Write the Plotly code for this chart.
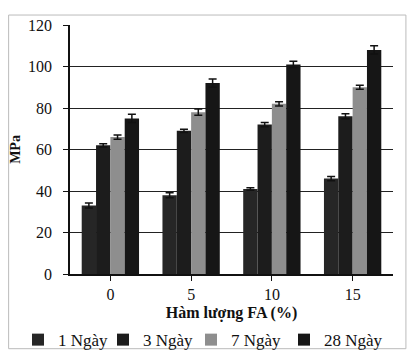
import plotly.graph_objects as go

categories = ["0", "5", "10", "15"]
series_names = ["1 Ngày", "3 Ngày", "7 Ngày", "28 Ngày"]
day1 = [33, 38, 41, 46]
day3 = [62, 69, 72, 76]
day7 = [66, 78, 82, 90]
day28 = [75, 92, 101, 108]
err1 = [1.2, 1.2, 0.6, 1.0]
err3 = [0.8, 0.8, 1.0, 1.2]
err7 = [1.0, 1.5, 1.0, 1.0]
err28 = [2.0, 2.0, 1.5, 2.0]
colors = ["#262626", "#1c1c1c", "#8e8e8e", "#161616"]
legend_ids = ["legend", "legend2", "legend3", "legend4"]
legend_left_px = [10, 95, 183, 276]

fig = go.Figure()
for name, vals, errs, c, lg in zip(series_names, [day1, day3, day7, day28],
                                   [err1, err3, err7, err28], colors, legend_ids):
    fig.add_trace(go.Bar(
        x=categories, y=vals, name=name, marker_color=c,
        marker_line_width=0, legend=lg,
        error_y=dict(type="data", array=errs, visible=True,
                     color="#111111", thickness=1.5, width=4),
    ))

font_family = "Liberation Serif, Times New Roman, serif"
W, H = 399, 342
legend_cfg = {}
for lg, px in zip(legend_ids, legend_left_px):
    legend_cfg[lg] = dict(orientation="h", xref="container", yref="container",
                          x=px / W, xanchor="left", y=0.029, yanchor="middle",
                          font=dict(size=17), itemwidth=30,
                          bgcolor="rgba(0,0,0,0)")

fig.update_layout(
    width=W, height=H,
    margin=dict(l=62, r=14, t=17, b=76, autoexpand=False),
    paper_bgcolor="white", plot_bgcolor="white",
    barmode="group", bargap=0.29, bargroupgap=0,
    font=dict(family=font_family, size=15, color="#111111"),
    showlegend=True,
    xaxis=dict(
        title=dict(text="<b>Hàm lượng FA (%)</b>", font=dict(size=16), standoff=10),
        showline=True, linecolor="#111111", linewidth=1.5,
        ticks="outside", ticklen=5, tickcolor="#111111",
        tickfont=dict(size=16), automargin=False,
    ),
    yaxis=dict(
        title=dict(text="<b>MPa</b>", font=dict(size=14), standoff=10),
        range=[0, 120], dtick=20,
        showline=True, linecolor="#111111", linewidth=1.5,
        showgrid=True, gridcolor="#222222", gridwidth=1,
        ticks="outside", ticklen=5, tickcolor="#111111",
        tickfont=dict(size=16), automargin=False, ticklabelstandoff=8,
        zeroline=False,
    ),
    **legend_cfg,
)
fig.add_shape(type="rect", xref="paper", yref="paper",
              x0=-0.19, x1=1.04, y0=-0.3, y1=1.04,
              line=dict(color="#bbbbbb", width=1))
fig.write_html("out.html")
